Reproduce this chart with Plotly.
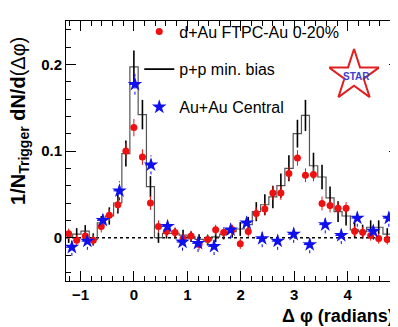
import plotly.graph_objects as go

# d+Au FTPC-Au 0-20% (red points), bin centres in radians
dau_x = [-1.22, -1.07, -0.91, -0.76, -0.61, -0.46, -0.30, -0.15, 0.00, 0.16,
         0.31, 0.46, 0.61, 0.77, 0.92, 1.07, 1.22, 1.38, 1.53, 1.68,
         1.84, 1.99, 2.14, 2.29, 2.45, 2.60, 2.75, 2.90, 3.06, 3.21,
         3.36, 3.52, 3.67, 3.82, 3.97, 4.13, 4.28, 4.43, 4.58, 4.74, 4.89]
dau_y = [0.0045, -0.003, 0.002, -0.003, 0.013, 0.026, 0.038, 0.100, 0.127, 0.093,
         0.040, 0.013, 0.0075, 0.006, -0.001, 0.002, -0.008, -0.002, 0.009, 0.006,
         0.009, -0.007, 0.007, 0.028, 0.033, 0.0515, 0.0515, 0.074, 0.092, 0.072,
         0.073, 0.0395, 0.037, 0.034, 0.034, 0.0075, 0.0063, 0.0026, -0.001, -0.002, -0.0106]
dau_err = [0.006, 0.006, 0.006, 0.006, 0.007, 0.007, 0.008, 0.009, 0.010, 0.009,
           0.008, 0.007, 0.006, 0.006, 0.006, 0.006, 0.006, 0.006, 0.006, 0.006,
           0.006, 0.006, 0.006, 0.007, 0.007, 0.008, 0.008, 0.008, 0.009, 0.008,
           0.008, 0.008, 0.008, 0.007, 0.007, 0.006, 0.006, 0.006, 0.006, 0.006, 0.006]

# p+p min. bias histogram, same bins
pp_y = [0.001, 0.004, 0.0075, -0.002, 0.017, 0.025, 0.040, 0.097, 0.197, 0.142,
        0.059, 0.000, 0.005, 0.005, 0.003, 0.001, -0.002, -0.003, 0.001, 0.004,
        0.007, 0.010, 0.015, 0.030, 0.038, 0.047, 0.060, 0.080, 0.120, 0.141,
        0.083, 0.070, 0.046, 0.030, 0.025, 0.009, 0.007, 0.012, 0.012, 0.004, 0.000]
pp_err = [0.007, 0.007, 0.007, 0.007, 0.008, 0.010, 0.012, 0.015, 0.019, 0.017,
          0.012, 0.006, 0.006, 0.006, 0.006, 0.006, 0.006, 0.006, 0.006, 0.006,
          0.007, 0.008, 0.009, 0.011, 0.012, 0.013, 0.014, 0.015, 0.016, 0.018,
          0.015, 0.014, 0.013, 0.012, 0.011, 0.009, 0.008, 0.008, 0.008, 0.007, 0.007]

# Au+Au central (blue stars)
auau_x = [-1.16, -0.87, -0.58, -0.27, 0.02, 0.32, 0.63, 0.91, 1.20, 1.50, 1.81,
          2.11, 2.40, 2.69, 2.99, 3.29, 3.58, 3.88, 4.18, 4.48, 4.77]
auau_y = [-0.011, -0.004, 0.020, 0.054, 0.177, 0.084, 0.013, -0.005, -0.0065, -0.010, 0.009,
          0.017, -0.001, -0.004, 0.004, -0.008, 0.015, 0.0026, 0.0226, 0.0075, 0.0226]
auau_err = [0.010, 0.010, 0.010, 0.011, 0.012, 0.011, 0.010, 0.010, 0.010, 0.010, 0.010,
            0.010, 0.010, 0.010, 0.010, 0.010, 0.010, 0.010, 0.010, 0.010, 0.010]
auau_xerr = 0.11

font = "Liberation Sans, Arial, sans-serif"

fig = go.Figure()

# zero line
fig.add_trace(go.Scatter(x=[-1.27, 4.96], y=[0, 0], mode="lines",
                         line=dict(color="black", width=1.5, dash="dot"),
                         showlegend=False, hoverinfo="skip"))

# p+p histogram as steps
fig.add_trace(go.Scatter(x=dau_x, y=pp_y, mode="lines", line_shape="hvh",
                         line=dict(color="#555", width=1.2), showlegend=False))
fig.add_trace(go.Scatter(x=dau_x, y=pp_y, mode="markers", marker=dict(size=0.1, color="black"),
                         error_y=dict(type="data", array=pp_err, color="black", thickness=1.6, width=0),
                         showlegend=False))

# dotted blue error bars
ex, ey = [], []
for x, y, e in zip(auau_x, auau_y, auau_err):
    ex += [x - auau_xerr, x + auau_xerr, None, x, x, None]
    ey += [y, y, None, y - e, y + e, None]
fig.add_trace(go.Scatter(x=ex, y=ey, mode="lines", line=dict(color="blue", width=1, dash="dot"),
                         showlegend=False, hoverinfo="skip"))

# legend entries / data
fig.add_trace(go.Scatter(x=dau_x, y=dau_y, mode="markers", name="d+Au FTPC-Au 0-20%",
                         marker=dict(symbol="circle", size=7, color="#ee1111"),
                         error_y=dict(type="data", array=dau_err, color="#ee1111", thickness=1, width=0),
                         error_x=dict(type="constant", value=0.04, color="#ee1111", thickness=1, width=0),
                         legendgroup="a"))
fig.add_trace(go.Scatter(x=[None], y=[None], mode="lines", name="p+p min. bias",
                         line=dict(color="black", width=1.8), legendgroup="b"))
fig.add_trace(go.Scatter(x=auau_x, y=auau_y, mode="markers", name="Au+Au Central",
                         marker=dict(symbol="star", size=11, color="#1010ee", line=dict(width=0)),
                         legendgroup="c"))

# STAR logo star on an overlay axis
fig.add_trace(go.Scatter(x=[0.5], y=[0.5], xaxis="x2", yaxis="y2", mode="markers",
                         marker=dict(symbol="star-open", size=38, color="#e02020",
                                     line=dict(width=2, color="#e02020")),
                         showlegend=False, hoverinfo="skip"))

axis_common = dict(showline=True, linecolor="black", linewidth=1, mirror="ticks",
                   ticks="inside", tickcolor="black", ticklen=10, showgrid=False,
                   zeroline=False, tickfont=dict(family=font, size=15, color="black", weight="bold"))

fig.update_xaxes(range=[-1.27, 4.96], tickvals=[-1, 0, 1, 2, 3, 4],
                 minor=dict(ticks="inside", ticklen=5, dtick=0.2, tickcolor="black", tick0=0),
                 **axis_common)
fig.update_yaxes(range=[-0.05, 0.25], tickvals=[0, 0.1, 0.2], ticktext=["0", "0.1", "0.2"],
                 minor=dict(ticks="inside", ticklen=5, dtick=0.02, tickcolor="black", tick0=0),
                 **axis_common)

fig.update_layout(
    width=398, height=327,
    margin=dict(l=58, r=7, t=7, b=54),
    plot_bgcolor="white", paper_bgcolor="white",
    font=dict(family=font, color="black"),
    xaxis2=dict(domain=[0.79, 0.94], range=[0, 1], visible=False, anchor="y2"),
    yaxis2=dict(domain=[0.68, 0.90], range=[0, 1], visible=False, anchor="x2"),
    legend=dict(x=0.22, y=1.025, xanchor="left", yanchor="top", bgcolor="rgba(0,0,0,0)",
                font=dict(family=font, size=16), tracegroupgap=14, itemwidth=30),
    annotations=[
        dict(text="Δ φ (radians)", xref="paper", yref="paper", x=0.99, y=-0.09,
             xanchor="right", yanchor="top", showarrow=False,
             font=dict(family=font, size=18, weight="bold")),
        dict(text="<b>1/N<sub>Trigger</sub> dN/d</b>(Δφ)", xref="paper", yref="paper",
             x=-0.14, y=0.617, textangle=-90, xanchor="center", yanchor="middle",
             showarrow=False, font=dict(family=font, size=20)),
        dict(text="<b>STAR</b>", xref="paper", yref="paper", x=0.872, y=0.785, showarrow=False,
             xanchor="center", yanchor="middle", font=dict(family=font, size=10, color="#4040cc")),
    ],
)

fig.write_html("out.html")
